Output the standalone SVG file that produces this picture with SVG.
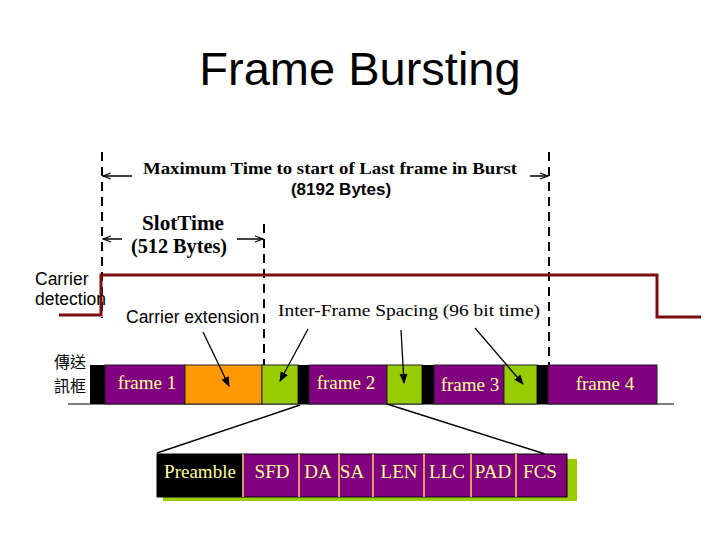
<svg xmlns="http://www.w3.org/2000/svg" width="720" height="540" viewBox="0 0 720 540">
<defs>
<marker id="open" markerWidth="10" markerHeight="8" refX="9" refY="4" orient="auto" markerUnits="userSpaceOnUse">
<path d="M1,1 L9,4 L1,7" fill="none" stroke="#000" stroke-width="1.2"/>
</marker>
<marker id="solid" markerWidth="10" markerHeight="10" refX="9" refY="5" orient="auto" markerUnits="userSpaceOnUse">
<path d="M0,1 L10,5 L0,9 Z" fill="#000"/>
</marker>
</defs>
<style>
.title{font-family:"Liberation Sans",Arial,sans-serif;font-size:47px;fill:#000}
.sans{font-family:"Liberation Sans",Arial,sans-serif;font-size:17.5px;fill:#000}
.sansb{font-family:"Liberation Sans",Arial,sans-serif;font-size:17px;font-weight:bold;fill:#000}
.serifb{font-family:"Liberation Serif","Times New Roman",serif;font-size:16px;font-weight:bold;fill:#000}
.slot{font-family:"Liberation Serif","Times New Roman",serif;font-size:20px;font-weight:bold;fill:#000}
.serif{font-family:"Liberation Serif","Times New Roman",serif;font-size:16px;fill:#000}
.cjk{font-family:"Noto Sans CJK TC","Noto Sans CJK SC",sans-serif;font-size:16px;fill:#000}
.flbl{font-family:"Liberation Serif","Times New Roman",serif;font-size:19px;fill:#ffff99}
.dash{stroke:#000;stroke-width:2;stroke-dasharray:9,6;fill:none}
.purple{fill:#800080;stroke:#222;stroke-width:1}
.orange{fill:#ff9900;stroke:#222;stroke-width:1}
.green{fill:#99cc00;stroke:#222;stroke-width:1}
.blk{fill:#000}
.dim{stroke:#000;stroke-width:1.5;fill:none;marker-end:url(#open)}
.ptr{stroke:#000;stroke-width:1.3;fill:none;marker-end:url(#solid)}
.div{stroke:#ffcc66;stroke-width:1.5}
</style>
<rect width="720" height="540" fill="#fff"/>
<text class="title" x="360" y="85" text-anchor="middle">Frame Bursting</text>

<g id="guides">
<line class="dash" x1="102" y1="152" x2="102" y2="318"/>
<line class="dash" x1="264" y1="224" x2="264" y2="366"/>
<line class="dash" x1="549" y1="152" x2="549" y2="366"/>
</g>

<g id="max-time">
<text class="serifb" x="330" y="174" text-anchor="middle" textLength="374" lengthAdjust="spacingAndGlyphs">Maximum Time to start of Last frame in Burst</text>
<text class="sansb" x="341" y="195" text-anchor="middle">(8192 Bytes)</text>
</g>
<g id="slot-time">
<text class="slot" x="183" y="230" text-anchor="middle" textLength="82" lengthAdjust="spacingAndGlyphs">SlotTime</text>
<text class="slot" x="179" y="253" text-anchor="middle" textLength="96" lengthAdjust="spacingAndGlyphs">(512 Bytes)</text>
</g>

<g id="carrier">
<path d="M59,315 H101 V275 H657 V317 H701" fill="none" stroke="#7a0f0f" stroke-width="3"/>
<text class="sans" x="35" y="285">Carrier</text>
<text class="sans" x="35" y="305">detection</text>
</g>

<g id="labels">
<text class="sans" x="126" y="323">Carrier extension</text>
<text class="serif" x="278" y="316" textLength="262" lengthAdjust="spacingAndGlyphs">Inter-Frame Spacing (96 bit time)</text>
<text class="cjk" x="54" y="368">傳送</text>
<text class="cjk" x="54" y="392">訊框</text>
</g>

<g id="frame-row">
<line x1="68" y1="404" x2="674" y2="404" stroke="#000" stroke-width="1.2"/>
<rect class="blk" x="90" y="365" width="15" height="39"/>
<rect class="purple" x="105" y="365" width="80" height="39"/>
<rect class="orange" x="185" y="365" width="77" height="39"/>
<rect class="green" x="262" y="365" width="36" height="39"/>
<rect class="blk" x="298" y="365" width="11" height="39"/>
<rect class="purple" x="309" y="365" width="78" height="39"/>
<rect class="green" x="387" y="365" width="35" height="39"/>
<rect class="blk" x="422" y="365" width="12" height="39"/>
<rect class="purple" x="434" y="365" width="70" height="39"/>
<rect class="green" x="504" y="365" width="33" height="39"/>
<rect class="blk" x="537" y="365" width="11" height="39"/>
<rect class="purple" x="548" y="365" width="109" height="39"/>
<text class="flbl" x="147" y="389" text-anchor="middle">frame 1</text>
<text class="flbl" x="346" y="389" text-anchor="middle">frame 2</text>
<text class="flbl" x="470" y="391" text-anchor="middle">frame 3</text>
<text class="flbl" x="605" y="390" text-anchor="middle">frame 4</text>
</g>

<g id="fields">
<rect x="163" y="459" width="414" height="42" fill="#99cc00"/>
<rect x="157" y="454" width="410" height="43" fill="#800080" stroke="#000" stroke-width="1"/>
<rect x="157" y="454" width="86" height="43" fill="#000"/>
<line class="div" x1="243" y1="454" x2="243" y2="497"/>
<line class="div" x1="299" y1="454" x2="299" y2="497"/>
<line class="div" x1="339" y1="454" x2="339" y2="497"/>
<line class="div" x1="373" y1="454" x2="373" y2="497"/>
<line class="div" x1="424" y1="454" x2="424" y2="497"/>
<line class="div" x1="471" y1="454" x2="471" y2="497"/>
<line class="div" x1="516" y1="454" x2="516" y2="497"/>
<text class="flbl" x="200" y="478" text-anchor="middle">Preamble</text>
<text class="flbl" x="272" y="478" text-anchor="middle">SFD</text>
<text class="flbl" x="318" y="478" text-anchor="middle">DA</text>
<text class="flbl" x="352" y="478" text-anchor="middle">SA</text>
<text class="flbl" x="399" y="478" text-anchor="middle">LEN</text>
<text class="flbl" x="447" y="478" text-anchor="middle">LLC</text>
<text class="flbl" x="493" y="478" text-anchor="middle">PAD</text>
<text class="flbl" x="540" y="478" text-anchor="middle">FCS</text>
</g>

<g id="connectors">
<line class="dim" x1="132" y1="176" x2="103" y2="176"/>
<line class="dim" x1="530" y1="176" x2="548" y2="176"/>
<line class="dim" x1="122" y1="239" x2="103" y2="239"/>
<line class="dim" x1="237" y1="239" x2="263" y2="239"/>
<line class="ptr" x1="203" y1="332" x2="229" y2="386"/>
<line class="ptr" x1="308" y1="329" x2="280" y2="381"/>
<line class="ptr" x1="401" y1="330" x2="404" y2="383"/>
<line class="ptr" x1="475" y1="328" x2="523" y2="384"/>
<line x1="300" y1="405" x2="157" y2="453" stroke="#000" stroke-width="1.5"/>
<line x1="387" y1="404" x2="545" y2="454" stroke="#000" stroke-width="1.5"/>
</g>
</svg>
